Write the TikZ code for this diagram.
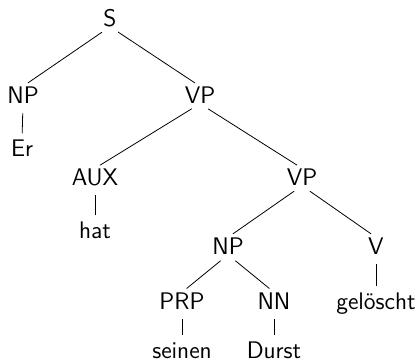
\documentclass[tikz,border=0pt]{standalone}
\begin{document}
\begin{tikzpicture}[x=0.5pt,y=-0.5pt,
  lbl/.style={inner sep=0pt, text height=8.3pt, text depth=0pt, font=\sffamily\fontsize{12}{14}\selectfont},
  br/.style={line width=0.4pt, shorten <=4.8pt, shorten >=3pt}]
\useasboundingbox (0,0) rectangle (420,363);
\node[lbl] (S) at (110,18) {S};
\node[lbl] (NP) at (23,95) {NP};
\node[lbl] (VP) at (200,95) {VP};
\node[lbl] (Er) at (22,148) {Er};
\node[lbl] (AUX) at (95,177) {AUX};
\node[lbl] (VP2) at (302,177) {VP};
\node[lbl] (hat) at (95,230) {hat};
\node[lbl] (NP2) at (228,246) {NP};
\node[lbl] (V) at (376,246) {V};
\node[lbl] (PRP) at (182,301) {PRP};
\node[lbl] (NN) at (274,301) {NN};
\node[lbl] (gel) at (376,301) {gelöscht};
\node[lbl] (sei) at (182,350) {seinen};
\node[lbl] (Du) at (274,350) {Durst};
\draw[br] (S.south) -- (NP.north);
\draw[br] (S.south) -- (VP.north);
\draw[br] (NP.south) -- (Er.north);
\draw[br] (VP.south) -- (AUX.north);
\draw[br] (VP.south) -- (VP2.north);
\draw[br] (AUX.south) -- (hat.north);
\draw[br] (VP2.south) -- (NP2.north);
\draw[br] (VP2.south) -- (V.north);
\draw[br] (V.south) -- (gel.north);
\draw[br] (NP2.south) -- (PRP.north);
\draw[br] (NP2.south) -- (NN.north);
\draw[br] (PRP.south) -- (sei.north);
\draw[br] (NN.south) -- (Du.north);
\end{tikzpicture}
\end{document}
